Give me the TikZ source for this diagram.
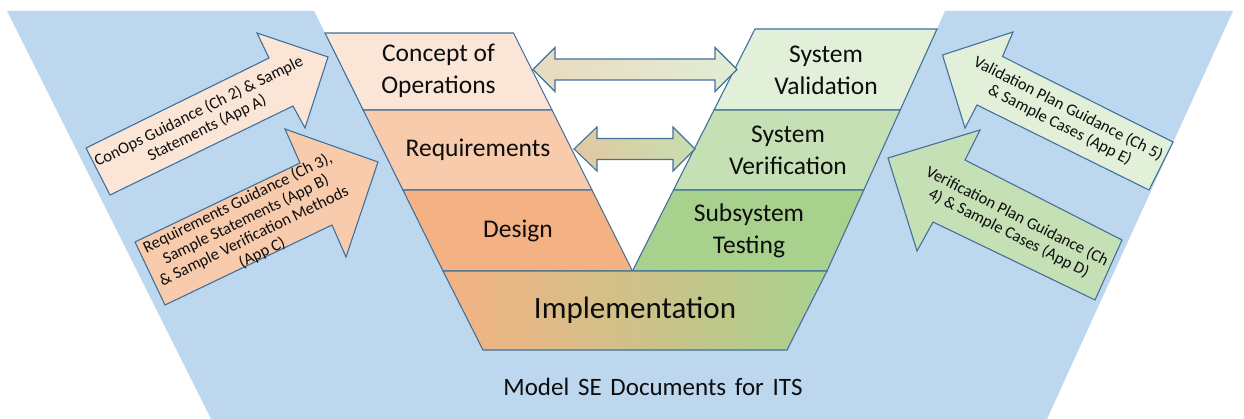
\documentclass[tikz,border=0pt]{standalone}
\usepackage{fontspec}
\setmainfont{Carlito}
\definecolor{bgblue}{RGB}{189,215,238}
\definecolor{edge}{RGB}{65,113,156}
\definecolor{conops}{RGB}{251,229,214}
\definecolor{reqs}{RGB}{248,203,173}
\definecolor{design}{RGB}{244,177,131}
\definecolor{valid}{RGB}{226,240,217}
\definecolor{verif}{RGB}{197,224,180}
\definecolor{subsys}{RGB}{169,209,142}
\definecolor{linkA}{RGB}{232,218,190}
\definecolor{linkB}{RGB}{226,237,214}
\definecolor{linkC}{RGB}{226,200,160}
\definecolor{linkD}{RGB}{200,222,176}
\begin{document}
\begin{tikzpicture}[x=1pt,y=-1pt,
  stage/.style={draw=edge, line width=1.1pt, line join=miter},
  boxlabel/.style={align=center, inner sep=0pt, text=black!95,
    font=\fontsize{25.5}{32}\selectfont},
  notelabel/.style={align=center, inner sep=0pt, text=black!95,
    font=\fontsize{16.5}{18.5}\selectfont}]
\useasboundingbox (0,0) rectangle (1244,419);

% background band of the V
\fill[bgblue] (7,11) -- (314,11) -- (325,33) -- (513.5,33) -- (632.5,271)
  -- (755,29) -- (937,29) -- (945,11) -- (1233,11) -- (1047,419)
  -- (211,419) -- cycle;

% left leg of the V
\draw[stage, fill=conops] (325,33) -- (513.5,33) -- (552,110) -- (363.2,110) -- cycle;
\draw[stage, fill=reqs] (363.2,110) -- (552,110) -- (592,190) -- (402.9,190) -- cycle;
\draw[stage, fill=design] (402.9,190) -- (592,190) -- (632.5,271) -- (443,271) -- cycle;

% right leg of the V
\draw[stage, fill=valid] (755,29) -- (937,29) -- (900.2,110) -- (714,110) -- cycle;
\draw[stage, fill=verif] (714,110) -- (900.2,110) -- (863.8,190) -- (673.5,190) -- cycle;
\draw[stage, fill=subsys] (673.5,190) -- (863.8,190) -- (827,271) -- (632.5,271) -- cycle;

% base of the V
\draw[stage, left color=design, right color=subsys]
  (443,271) -- (827,271) -- (787,350) -- (483,350) -- cycle;

\node[boxlabel] (conc) at (438.5,71) {Concept of\\Operations};
\node[boxlabel] (req) at (478,150) {Requirements};
\node[boxlabel] (des) at (518,231) {Design};
\node[boxlabel] (sval) at (826,70) {System\\Validation};
\node[boxlabel] (sver) at (788,150) {System\\Verification};
\node[boxlabel] (sub) at (749,231) {Subsystem\\Testing};
\node[boxlabel, font=\fontsize{31}{36}\selectfont] (impl) at (635,310) {Implementation};

% links between the two legs
\coordinate (linkAl) at (533,69.5);
\coordinate (linkAr) at (737,69.5);
\coordinate (linkBl) at (574,149);
\coordinate (linkBr) at (695,149);
\draw[stage, left color=linkA, right color=linkB]
  (linkAl) -- (555,47.5) -- (555,59) -- (715,59) -- (715,47.5) -- (linkAr)
  -- (715,91.5) -- (715,80) -- (555,80) -- (555,91.5) -- cycle;
\draw[stage, left color=linkC, right color=linkD]
  (linkBl) -- (597,127) -- (597,138.5) -- (673,138.5) -- (673,127) -- (linkBr)
  -- (673,171) -- (673,159.5) -- (597,159.5) -- (597,171) -- cycle;

% guidance arrows, left side
\draw[stage, fill=conops] (86,148) -- (269,58) -- (257,33) -- (328,57)
  -- (305,128) -- (293,106) -- (110,195) -- cycle;
\node[notelabel, rotate=26.3] (conopsnote) at (203,120)
  {ConOps Guidance (Ch 2) \& Sample\\Statements (App A)};

\draw[stage, fill=reqs] (135,242) -- (300,163) -- (285,129) -- (378,162)
  -- (346,257) -- (332,225) -- (165,305) -- cycle;
\node[notelabel, rotate=26.1] (reqnote) at (250,228)
  {Requirements Guidance (Ch 3),\\Sample Statements (App B)\\\& Sample Verification Methods\\(App C)};

% guidance arrows, right side
\draw[stage, fill=valid] (942.5,55) -- (1013,32) -- (1002.5,56.5) -- (1173,142)
  -- (1149,190) -- (977,105) -- (965,128) -- cycle;
\node[notelabel, rotate=-26.9] (valnote) at (1064,117)
  {Validation Plan Guidance (Ch 5)\\\& Sample Cases (App E)};

\draw[stage, fill=verif] (888,158) -- (980,130) -- (965,160) -- (1122,240)
  -- (1095,300) -- (933,222) -- (917,251) -- cycle;
\node[notelabel, rotate=-26.8] (vernote) at (1013,225)
  {Verification Plan Guidance (Ch\\4) \& Sample Cases (App D)};

% caption
\node[boxlabel, font=\fontsize{25}{28}\selectfont, inner sep=0pt] (caption) at (653,387)
  {Model\hspace{0.35em}SE\hspace{0.35em}Documents\hspace{0.35em}for\hspace{0.35em}ITS};
\end{tikzpicture}
\end{document}
